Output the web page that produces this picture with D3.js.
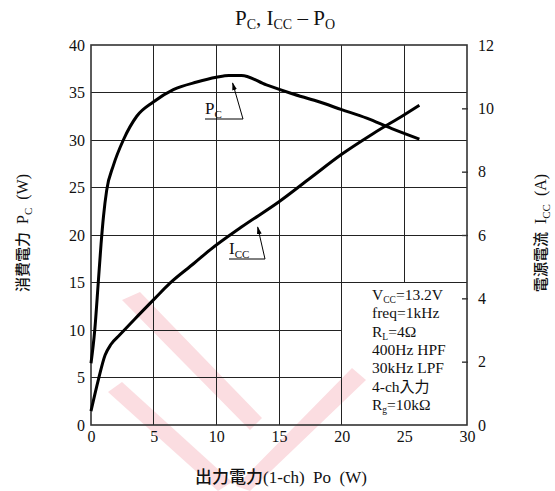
<!DOCTYPE html>
<html>
<head>
<meta charset="utf-8">
<script src="https://cdn.jsdelivr.net/npm/d3@7"></script>
<style>
  html, body { margin: 0; padding: 0; background: #fff; }
  svg { display: block; }
  text { white-space: pre; }
</style>
</head>
<body>
<svg id="chart" width="555" height="491"></svg>
<script>
// Output power (W) vs. dissipation Pc (W)
const poPc = [0, 0.3, 0.58, 0.8, 1.0, 1.25, 1.78, 2.58, 3.65, 4.97, 6.57, 8.44, 10, 11, 12, 14, 16, 18, 20, 22, 24, 26.2];
const pcW  = [6.5, 10, 15, 19, 22, 24.7, 27.3, 30, 32.5, 34, 35.3, 36.1, 36.6, 36.8, 36.8, 35.8, 34.9, 34.1, 33.2, 32.3, 31.2, 30.1];

// Output power (W) vs. supply current Icc (A)
const poIcc = [0, 0.6, 1.12, 1.6, 2.3, 3.5, 5.1, 6.3, 8.2, 9.5, 12, 15, 17.5, 20, 22.5, 25, 26.2];
const iccA  = [0.44, 1.45, 2.2, 2.55, 2.85, 3.35, 4.0, 4.48, 5.1, 5.53, 6.25, 7.05, 7.8, 8.55, 9.2, 9.8, 10.1];

const xTicks = [0, 5, 10, 15, 20, 25, 30];
const yLeftTicks = [0, 5, 10, 15, 20, 25, 30, 35, 40];
const yRightTicks = [0, 2, 4, 6, 8, 10, 12];

const conditions = [
  ["V", "CC", "=13.2V"],
  ["freq=1kHz", "", ""],
  ["R", "L", "=4Ω"],
  ["400Hz HPF", "", ""],
  ["30kHz LPF", "", ""],
  ["4-ch入力", "", ""],
  ["R", "g", "=10kΩ"]
];

const serif = "'Liberation Serif', 'DejaVu Serif', serif";
const cjk = "'Noto Sans CJK JP', 'Noto Sans CJK SC', sans-serif";

const svg = d3.select("#chart");
const L = 91, R = 467, T = 45, B = 425;

const x = d3.scaleLinear().domain([0, 30]).range([L, R]);
const yL = d3.scaleLinear().domain([0, 40]).range([B, T]);
const yR = d3.scaleLinear().domain([0, 12]).range([B, T]);

// faint logo mark behind the plot
const wm = svg.append("g").attr("fill", "#fbdde1");
wm.append("polygon").attr("points", "122,300 140,292 262,418 250,430");
wm.append("polygon").attr("points", "108,392 122,382 232,482 218,491");
wm.append("polygon").attr("points", "236,486 352,368 366,380 250,491");

// grid
const grid = svg.append("g").attr("stroke", "#222").attr("stroke-width", 1).attr("shape-rendering", "crispEdges");
[5, 10, 15, 20, 25].forEach(v => {
  const yEnd = v === 25 ? yL(15) : B;
  grid.append("line").attr("x1", x(v)).attr("x2", x(v)).attr("y1", T).attr("y2", yEnd);
});
[5, 10, 15, 20, 25, 30, 35].forEach(v => {
  const xEnd = v <= 10 ? x(20) : R;
  grid.append("line").attr("x1", L).attr("x2", xEnd).attr("y1", yL(v)).attr("y2", yL(v));
});

// frame
svg.append("rect").attr("x", L).attr("y", T).attr("width", R - L).attr("height", B - T)
  .attr("fill", "none").attr("stroke", "#333").attr("stroke-width", 1.6);

// axes
const leftAxis = d3.axisLeft(yL).tickValues(yLeftTicks).tickSize(0).tickPadding(6);
const bottomAxis = d3.axisBottom(x).tickValues(xTicks).tickSize(0).tickPadding(6);
const rightAxis = d3.axisRight(yR).tickValues(yRightTicks).tickSizeInner(-6).tickSizeOuter(0).tickPadding(10);

function styleAxis(g) {
  g.select(".domain").remove();
  g.selectAll("text").attr("font-family", serif).attr("font-size", 16).attr("fill", "#111");
  g.selectAll("line").attr("stroke", "#333").attr("stroke-width", 1.4);
}
svg.append("g").attr("transform", `translate(${L},0)`).call(leftAxis).call(styleAxis);
svg.append("g").attr("transform", `translate(0,${B})`).call(bottomAxis).call(styleAxis);
const ra = svg.append("g").attr("transform", `translate(${R + 1},0)`).call(rightAxis).call(styleAxis);
ra.selectAll(".tick").filter(d => d === 0 || d === 12).select("line").remove();

// curves
svg.append("path")
  .datum(poPc.map((p, i) => [p, pcW[i]]))
  .attr("d", d3.line().x(d => x(d[0])).y(d => yL(d[1])).curve(d3.curveMonotoneX))
  .attr("fill", "none").attr("stroke", "#000").attr("stroke-width", 3);
svg.append("path")
  .datum(poIcc.map((p, i) => [p, iccA[i]]))
  .attr("d", d3.line().x(d => x(d[0])).y(d => yR(d[1])).curve(d3.curveMonotoneX))
  .attr("fill", "none").attr("stroke", "#000").attr("stroke-width", 3);

// curve callouts
svg.append("defs").append("marker").attr("id", "arrow").attr("viewBox", "0 0 10 10")
  .attr("refX", 9).attr("refY", 5).attr("markerWidth", 8).attr("markerHeight", 8).attr("orient", "auto")
  .append("path").attr("d", "M0,2 L10,5 L0,8 Z").attr("fill", "#000");

function callout(tx, ty, main, sub, ux2, tipPo, tipY) {
  const t = svg.append("text").attr("x", tx).attr("y", ty)
    .attr("font-family", serif).attr("font-size", 17).attr("fill", "#111");
  t.append("tspan").text(main);
  t.append("tspan").attr("font-size", 11).attr("dy", 4).text(sub);
  svg.append("polyline")
    .attr("points", `${tx},${ty + 5} ${ux2},${ty + 5} ${x(tipPo)},${tipY}`)
    .attr("fill", "none").attr("stroke", "#000").attr("stroke-width", 1)
    .attr("marker-end", "url(#arrow)");
}
callout(205, 114, "P", "C", 243, 11.3, yL(36.0));
callout(229, 254, "I", "CC", 265, 13.3, yR(6.25));

// operating conditions
const cond = svg.append("g").attr("font-family", serif).attr("font-size", 15.5).attr("fill", "#111");
conditions.forEach((c, i) => {
  const t = cond.append("text").attr("x", 372).attr("y", 300 + i * 18.3);
  if (c[1]) {
    t.append("tspan").text(c[0]);
    t.append("tspan").attr("font-size", 9.5).attr("dy", 3).text(c[1]);
    t.append("tspan").attr("dy", -3).text(c[2]);
  } else if (c[0].includes("入力")) {
    t.append("tspan").text("4-ch");
    t.append("tspan").attr("font-family", cjk).attr("font-size", 15).text("入力");
  } else {
    t.text(c[0]);
  }
});

// title
const title = svg.append("text").attr("x", 285).attr("y", 25).attr("text-anchor", "middle")
  .attr("font-family", serif).attr("font-size", 21).attr("fill", "#111");
title.append("tspan").text("P");
title.append("tspan").attr("font-size", 14).attr("dy", 4).text("C");
title.append("tspan").attr("dy", -4).text(", I");
title.append("tspan").attr("font-size", 14).attr("dy", 4).text("CC");
title.append("tspan").attr("dy", -4).text(" – P");
title.append("tspan").attr("font-size", 14).attr("dy", 4).text("O");

// axis titles
const xt = svg.append("text").attr("x", 281).attr("y", 483).attr("text-anchor", "middle")
  .attr("font-size", 17).attr("fill", "#111");
xt.append("tspan").attr("font-family", cjk).attr("font-weight", 500).text("出力電力");
xt.append("tspan").attr("font-family", serif).attr("font-size", 17).text("(1-ch)  Po  (W)");

function yTitle(cx, cy, cjkText, main, sub, unit) {
  const t = svg.append("text").attr("transform", `translate(${cx},${cy}) rotate(-90)`)
    .attr("text-anchor", "middle").attr("font-size", 15).attr("fill", "#111");
  t.append("tspan").attr("font-family", cjk).attr("font-weight", 500).text(cjkText);
  t.append("tspan").attr("font-family", serif).attr("font-size", 16).text("  " + main);
  t.append("tspan").attr("font-family", serif).attr("font-size", 11).attr("dy", 4).text(sub);
  t.append("tspan").attr("font-family", serif).attr("font-size", 16).attr("dy", -4).text("  (" + unit + ")");
}
yTitle(28, 233, "消費電力", "P", "C", "W");
yTitle(546, 233, "電源電流", "I", "CC", "A");
</script>
</body>
</html>
